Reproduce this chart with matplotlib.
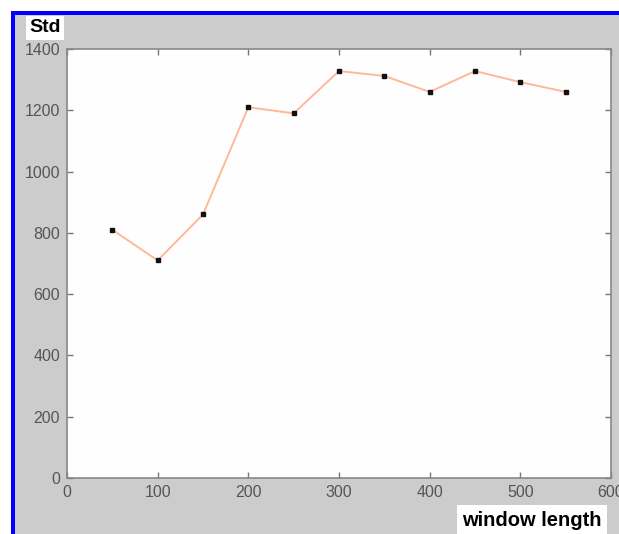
import matplotlib
matplotlib.use('Agg')
import matplotlib.pyplot as plt
from matplotlib.patches import Rectangle

window_length = [50, 100, 150, 200, 250, 300, 350, 400, 450, 500, 550]
std_values = [810, 710, 860, 1210, 1190, 1328, 1312, 1260, 1328, 1292, 1260]
x_ticks = [0, 100, 200, 300, 400, 500, 600]
y_ticks = [0, 200, 400, 600, 800, 1000, 1200, 1400]

W, H = 619, 534
plt.rcParams['font.family'] = ['Liberation Sans', 'DejaVu Sans']

fig = plt.figure(figsize=(W / 100, H / 100), dpi=100)
fig.patch.set_facecolor('white')

# grey panel with blue frame on top and left
fig.patches.append(Rectangle((12 / W, 0), 1 - 12 / W, 1 - 12 / H, transform=fig.transFigure,
                             facecolor='#cccccc', edgecolor='none', zorder=-2))
fig.patches.append(Rectangle((11 / W, 1 - 15 / H), 1 - 11 / W, 4 / H, transform=fig.transFigure,
                             facecolor='#0000ff', edgecolor='none', zorder=-1))
fig.patches.append(Rectangle((11 / W, 0), 4 / W, 1 - 11 / H, transform=fig.transFigure,
                             facecolor='#0000ff', edgecolor='none', zorder=-1))

ax = fig.add_axes([67 / W, 1 - 478 / H, (611 - 67) / W, (478 - 49) / H])
ax.set_zorder(2)
ax.set_facecolor('#fefefe')
ax.plot(window_length, std_values, color='#ffb898', lw=1.4, zorder=2)
ax.plot(window_length, std_values, 's', color='#111111', ms=3, zorder=3)

ax.set_xlim(0, 600)
ax.set_ylim(0, 1400)
ax.set_xticks(x_ticks)
ax.set_yticks(y_ticks)
ax.tick_params(direction='in', length=4, colors='#777777', labelcolor='#555555',
               labelsize=11.5, top=True, right=True, width=1, pad=5)
for s in ax.spines.values():
    s.set_color('#888888')
    s.set_linewidth(1.2)

fig.text(29 / W, 1 - 28 / H, 'Std', fontsize=14, fontweight='bold', va='center', ha='left',
         zorder=3, bbox=dict(facecolor='white', edgecolor='none', pad=2.5))
fig.text(532 / W, 1 - 520 / H, 'window length', fontsize=14.5, fontweight='bold',
         va='center', ha='center', zorder=3,
         bbox=dict(facecolor='white', edgecolor='none', boxstyle='square,pad=0.25'))

fig.savefig('out.png', dpi=100, facecolor=fig.get_facecolor())
